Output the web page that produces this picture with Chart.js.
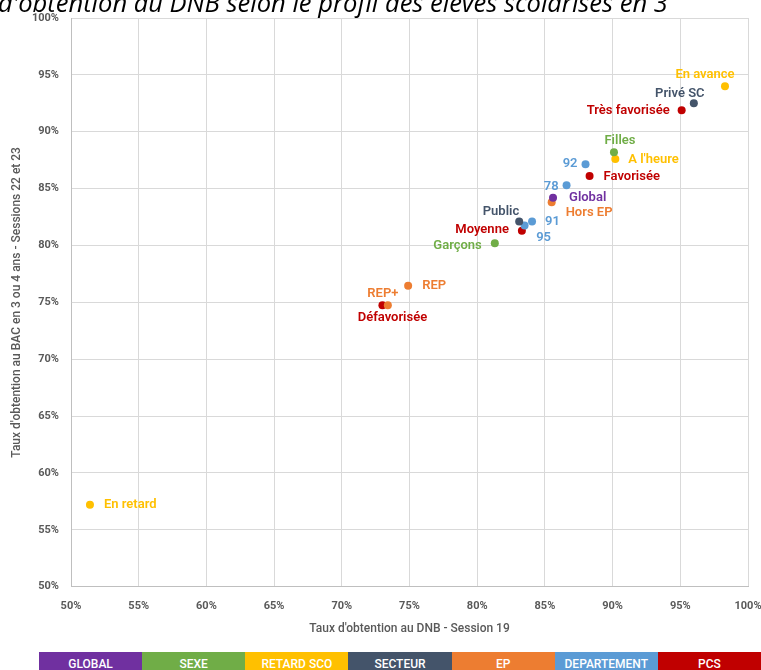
<!DOCTYPE html>
<html>
<head>
<meta charset="utf-8">
<script src="https://cdn.jsdelivr.net/npm/chart.js@4/dist/chart.umd.min.js"></script>
<style>
  body { margin: 0; width: 761px; height: 670px; overflow: hidden; background: #fff; position: relative; font-family: Roboto, sans-serif; }
  #wrap { position: absolute; left: 0; top: 0; width: 761px; height: 650px; }
  #legend { position: absolute; left: 39px; top: 652px; width: 722px; height: 26px; display: flex; }
  #legend div { flex: 1; color: #fff; font: 500 12px Roboto, sans-serif; text-align: center; line-height: 24px; }
</style>
</head>
<body>
<div id="wrap"><canvas id="chart"></canvas></div>
<div id="legend"></div>
<script>
// title: the first part is outside the picture, as in the source
const titleHidden = "Taux d'obtention au BAC et taux "
const titleVisible = "d'obtention au DNB selon le profil des élèves scolarisés en 3"
const categories = ["GLOBAL", "SEXE", "RETARD SCO", "SECTEUR", "EP", "DEPARTEMENT", "PCS"]
const categoryColors = ["#7030A0", "#70AD47", "#FFC000", "#44546A", "#ED7D31", "#5B9BD5", "#C00000"]

const pointNames = ["Global", "Filles", "Garçons", "En avance", "A l'heure", "En retard", "Privé SC", "Public",
  "REP+", "REP", "Hors EP", "78", "91", "92", "95", "Très favorisée", "Favorisée", "Moyenne", "Défavorisée"]
const pointGroups = ["GLOBAL", "SEXE", "SEXE", "RETARD SCO", "RETARD SCO", "RETARD SCO", "SECTEUR", "SECTEUR",
  "EP", "EP", "EP", "DEPARTEMENT", "DEPARTEMENT", "DEPARTEMENT", "DEPARTEMENT", "PCS", "PCS", "PCS", "PCS"]
// taux DNB session 19 (x) / taux BAC sessions 22-23 (y), en %
const dnbRates = [85.6, 90.1, 81.3, 98.3, 90.2, 51.4, 96.0, 83.1, 73.4, 74.9, 85.5, 86.6, 84.05, 88.0, 83.5, 95.1, 88.3, 83.3, 73.0]
const bacRates = [84.2, 88.2, 80.2, 94.0, 87.6, 57.2, 92.5, 82.1, 74.75, 76.45, 83.8, 85.3, 82.1, 87.15, 81.75, 91.9, 86.1, 81.3, 74.75]

const axisTicks = [50, 55, 60, 65, 70, 75, 80, 85, 90, 95, 100]

// placement of each label relative to its dot: [dx, dy, align]
const labelPlacement = [
  [16, 0, "left"], [6, -11, "center"], [-13, 3, "right"], [-20, -11, "center"], [13, 1, "left"],
  [14, 0, "left"], [-14, -10, "center"], [0, -10, "right"], [-5, -11, "center"], [14, 0, "left"],
  [14, 10, "left"], [-8, 2, "right"], [13, 0, "left"], [-8, 0, "right"], [19, 12, "center"],
  [-12, 1, "right"], [14, 1, "left"], [-13, -1, "right"], [10, 13, "center"]
]

// legend bar
const legendEl = document.getElementById("legend")
categories.forEach((c, i) => {
  const d = document.createElement("div")
  d.textContent = c
  d.style.background = categoryColors[i]
  legendEl.appendChild(d)
})

const datasets = categories.map((cat, ci) => ({
  label: cat,
  data: pointNames
    .map((name, i) => ({ x: dnbRates[i], y: bacRates[i], name, idx: i }))
    .filter(p => pointGroups[p.idx] === cat),
  backgroundColor: categoryColors[ci],
  borderColor: categoryColors[ci],
  pointRadius: 4,
  pointHoverRadius: 4,
  borderWidth: 0,
}))

const pointLabels = {
  id: "pointLabels",
  afterDatasetsDraw(chart) {
    const ctx = chart.ctx
    ctx.save()
    ctx.font = "600 13px Roboto, sans-serif"
    ctx.textBaseline = "middle"
    chart.data.datasets.forEach((ds, di) => {
      const meta = chart.getDatasetMeta(di)
      meta.data.forEach((pt, j) => {
        const p = ds.data[j]
        const [dx, dy, align] = labelPlacement[p.idx]
        ctx.fillStyle = ds.backgroundColor
        ctx.textAlign = align
        ctx.fillText(p.name, pt.x + dx, pt.y + dy)
      })
    })
    ctx.restore()
  }
}

// title, cut off at the top like in the source; visible part runs from x=-2 to x=668
const topTitle = {
  id: "topTitle",
  afterDraw(chart) {
    const ctx = chart.ctx
    ctx.save()
    ctx.fillStyle = "#000"
    ctx.textBaseline = "alphabetic"
    ctx.textAlign = "left"
    ctx.font = "italic 20px 'Open Sans', sans-serif"
    const size = 20 * 670 / ctx.measureText(titleVisible).width
    ctx.font = "italic " + size.toFixed(2) + "px 'Open Sans', sans-serif"
    const startX = -2 - ctx.measureText(titleHidden).width
    ctx.fillText(titleHidden + titleVisible, startX, 12)
    ctx.font = "italic " + (size * 0.6).toFixed(2) + "px 'Open Sans', sans-serif"
    ctx.fillText("e", 669, 0)
    ctx.restore()
  }
}

const tickFmt = v => v + "%"

const ctx = document.getElementById("chart").getContext("2d")
new Chart(ctx, {
  type: "scatter",
  data: { datasets },
  options: {
    responsive: true,
    maintainAspectRatio: false,
    animation: false,
    layout: { padding: { top: 18, right: 13, left: 0, bottom: 0 } },
    plugins: {
      legend: { display: false },
      tooltip: { enabled: false }
    },
    scales: {
      x: {
        type: "linear",
        min: 50,
        max: 100,
        afterBuildTicks: s => { s.ticks = axisTicks.map(v => ({ value: v })) },
        afterFit: s => { s.height = 63.3; s.paddingLeft = 0; s.paddingRight = 0 },
        ticks: { callback: tickFmt, color: "#595959", font: { family: "Roboto", size: 11, weight: "bold" }, padding: 13, maxRotation: 0 },
        grid: { color: "#D9D9D9", drawTicks: false },
        border: { color: "#BFBFBF" },
        title: { display: true, text: "Taux d'obtention au DNB - Session 19", color: "#595959", font: { family: "Roboto", size: 12, weight: "500" }, padding: { top: 0, bottom: 14 } }
      },
      y: {
        min: 50,
        max: 100,
        afterBuildTicks: s => { s.ticks = axisTicks.map(v => ({ value: v })) },
        afterFit: s => { s.width = 71; s.paddingTop = 0; s.paddingBottom = 0 },
        ticks: { callback: tickFmt, color: "#595959", font: { family: "Roboto", size: 11, weight: "bold" }, padding: 12 },
        grid: { color: "#D9D9D9", drawTicks: false },
        border: { color: "#BFBFBF" },
        title: { display: true, text: "Taux d'obtention au BAC en 3 ou 4 ans - Sessions 22 et 23", color: "#595959", font: { family: "Roboto", size: 12, weight: "500" }, padding: { top: 10, bottom: 0 } }
      }
    }
  },
  plugins: [pointLabels, topTitle]
})
</script>
</body>
</html>
